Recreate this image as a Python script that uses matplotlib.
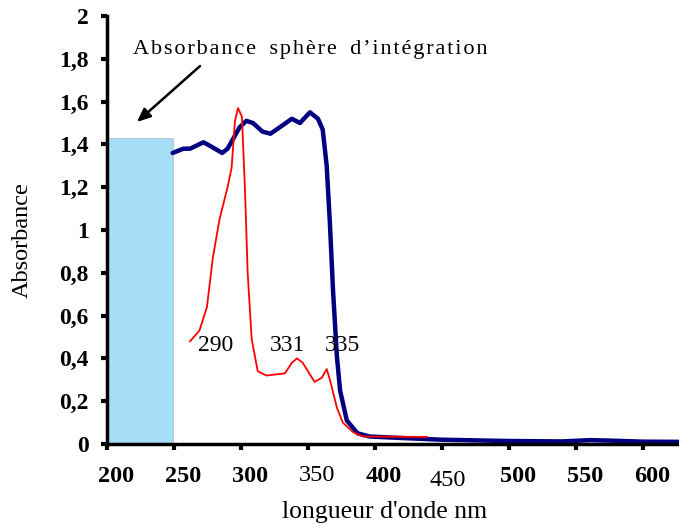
import matplotlib
matplotlib.use('Agg')
import matplotlib.pyplot as plt
from matplotlib.patches import Rectangle
from matplotlib.transforms import ScaledTranslation

# données
blue_x = [249, 257, 262, 272, 275, 286, 290, 299, 304, 309, 316, 322, 329, 338, 344, 351.5,
          357.5, 361, 364, 366.4, 368.7, 371.6, 374, 379, 387, 396, 420, 450, 500, 540, 560,
          575, 600, 627]
blue_y = [1.36, 1.38, 1.38, 1.41, 1.40, 1.36, 1.38, 1.48, 1.51, 1.50, 1.46, 1.45, 1.48, 1.52,
          1.50, 1.55, 1.52, 1.47, 1.30, 1.03, 0.72, 0.41, 0.25, 0.11, 0.05, 0.035, 0.028, 0.02,
          0.014, 0.012, 0.018, 0.016, 0.011, 0.01]

red_x = [262, 269, 274.6, 279, 284, 290, 293, 295.5, 297.8, 300.7, 303, 305, 308, 312.5, 319,
         332.8, 338, 341.8, 346, 355, 360.4, 364, 366.4, 371.6, 376, 383.6, 391, 439]
red_y = [0.48, 0.53, 0.64, 0.87, 1.05, 1.20, 1.29, 1.51, 1.57, 1.53, 1.19, 0.80, 0.49, 0.34,
         0.32, 0.33, 0.38, 0.40, 0.38, 0.29, 0.31, 0.35, 0.30, 0.17, 0.10, 0.056, 0.035, 0.033]

sphere_x = [200, 249]
sphere_y = 1.43

peak_labels = ['290', '331', '335']
peak_pos = [(281, 0.46), (335, 0.46), (376, 0.46)]

x_ticks = [200, 250, 300, 350, 400, 450, 500, 550, 600]
y_ticks = [0, 0.2, 0.4, 0.6, 0.8, 1, 1.2, 1.4, 1.6, 1.8, 2]
y_ticklabels = ['0', '0,2', '0,4', '0,6', '0,8', '1', '1,2', '1,4', '1,6', '1,8', '2']

plt.rcParams['font.family'] = 'Liberation Serif'

fig = plt.figure(figsize=(6.79, 5.25), dpi=100)
ax = fig.add_axes([0.1576, 0.1543, 0.8424, 0.8152])

ax.add_patch(Rectangle((sphere_x[0], 0), sphere_x[1] - sphere_x[0], sphere_y,
                       facecolor='#a6ddf7', edgecolor='#b8c8d0', linewidth=0.8, zorder=1))
ax.plot(blue_x, blue_y, color='#000080', linewidth=3.2, solid_capstyle='round', zorder=2)
ax.plot(red_x, red_y, color='#ff0000', linewidth=1.3, zorder=3)

for lab, (px, py) in zip(peak_labels, peak_pos):
    ax.text(px, py, lab, fontsize=17, ha='center', va='center', zorder=4)

# texte espacé + flèche vers le rectangle
titre = 'Absorbance sphère d’intégration'
titre_espace = '\u2009\u2009\u2009'.join('\u200a'.join(mot) for mot in titre.split(' '))
ax.text(219.4, 1.845, titre_espace, fontsize=16, ha='left', va='center')
ax.annotate('', xy=(222.4, 1.505), xytext=(269.4, 1.766),
            arrowprops=dict(arrowstyle='-|>,head_length=0.8,head_width=0.35', color='black',
                            lw=1.8, shrinkA=0, shrinkB=0))

ax.set_xlim(200, 627)
ax.set_ylim(0, 2)
ax.set_xticks(x_ticks)
ax.set_yticks(y_ticks)
ax.set_yticklabels(y_ticklabels)

for s in ['top', 'right']:
    ax.spines[s].set_visible(False)
for s in ['left', 'bottom']:
    ax.spines[s].set_linewidth(2.5)

ax.tick_params(axis='both', length=4, width=3)
ax.tick_params(axis='x', pad=7, labelsize=17.5)
ax.tick_params(axis='y', pad=9, labelsize=17)
for lab in ax.get_xticklabels() + ax.get_yticklabels():
    lab.set_fontweight('bold')

# sur l'original les étiquettes x sont décalées vers la droite ; 350 et 450 en maigre
for lab in ax.get_xticklabels():
    dx, dy = 9, -7
    if lab.get_text() == '350':
        lab.set_fontweight('normal')
        dy = -6
    if lab.get_text() == '450':
        lab.set_fontweight('normal')
        dx, dy = 6, -11
    lab.set_transform(lab.get_transform() + ScaledTranslation(dx / 100, dy / 100, fig.dpi_scale_trans))

ax.set_xlabel("longueur d'onde nm", fontsize=18.5)
ax.xaxis.label.set_va('center')
ax.xaxis.set_label_coords(0.486, -0.159)
ax.set_ylabel('Absorbance', fontsize=17.5)
ax.yaxis.label.set_va('center')
ax.yaxis.set_label_coords(-0.149, 0.477)

fig.savefig('out.png', dpi=100)
